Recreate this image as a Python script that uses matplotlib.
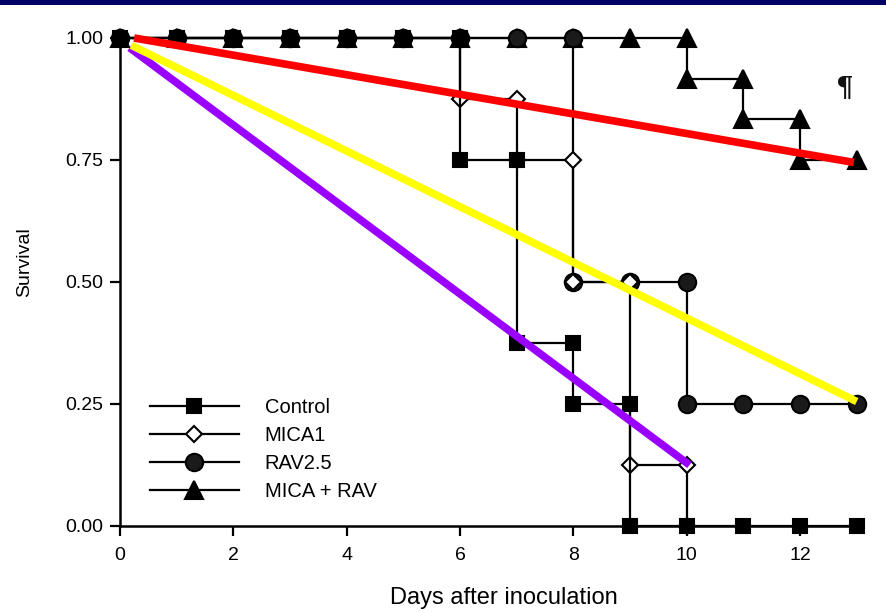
import matplotlib
matplotlib.use('Agg')
import matplotlib.pyplot as plt
from matplotlib.patches import Rectangle

plt.rcParams['font.family'] = ['Liberation Sans', 'DejaVu Sans']

# ---------------- data ----------------
days = list(range(14))
control  = [1, 1, 1, 1, 1, 1, 0.75, 0.375, 0.25, 0, 0, 0, 0, 0]
mica1    = [1, 1, 1, 1, 1, 1, 0.875, 0.75, 0.5, 0.125, 0]
rav25    = [1, 1, 1, 1, 1, 1, 1, 1, 0.5, 0.5, 0.25, 0.25, 0.25, 0.25]
mica_rav = [1, 1, 1, 1, 1, 1, 1, 1, 1, 1, 0.917, 0.833, 0.75, 0.75]
labels = ['Control', 'MICA1', 'RAV2.5', 'MICA + RAV']

# overlaid trend lines (start, end)
red_x, red_y = [0.25, 12.95], [1.0, 0.745]
yellow_x, yellow_y = [0.2, 13.0], [0.985, 0.255]
purple_x, purple_y = [0.17, 10.05], [0.98, 0.125]

xticks = [0, 2, 4, 6, 8, 10, 12]
yticks = [0.0, 0.25, 0.5, 0.75, 1.0]


def km_points(vals):
    xs, ys = [days[0]], [vals[0]]
    for d in range(1, len(vals)):
        if vals[d] != vals[d - 1]:
            xs.append(days[d]); ys.append(vals[d - 1])
        xs.append(days[d]); ys.append(vals[d])
    return xs, ys


W, H = 887, 613
fig = plt.figure(figsize=(W / 100, H / 100), dpi=100)
fig.patches.append(Rectangle((0, 1 - 5 / H), 1, 5 / H, transform=fig.transFigure,
                             facecolor='#000066', edgecolor='none', zorder=10))

left_px, right_px, top_px, bottom_px = 120, 856.7, 38, 526
ax = fig.add_axes([left_px / W, (H - bottom_px) / H,
                   (right_px - left_px) / W, (bottom_px - top_px) / H])

lw = 1.6
styles = {
    'MICA + RAV': dict(marker='^', ms=13.5, mfc='black', mec='black', z=2),
    'RAV2.5': dict(marker='o', ms=12.5, mfc='#1a1a1a', mec='black', z=3),
    'MICA1': dict(marker='D', ms=8.5, mfc='white', mec='black', z=4),
    'Control': dict(marker='s', ms=10.5, mfc='black', mec='black', z=5),
}
series = {'Control': control, 'MICA1': mica1, 'RAV2.5': rav25, 'MICA + RAV': mica_rav}
handles = {}
for name in ['MICA + RAV', 'RAV2.5', 'MICA1', 'Control']:
    st = styles[name]
    xs, ys = km_points(series[name])
    h, = ax.plot(xs, ys, color='black', lw=lw, marker=st['marker'], ms=st['ms'],
                 mfc=st['mfc'], mec=st['mec'], mew=1.5, zorder=st['z'], clip_on=False,
                 label=name)
    handles[name] = h

ax.plot(red_x, red_y, color='#ff0000', lw=5.5, solid_capstyle='butt', zorder=8, clip_on=False)
ax.plot(yellow_x, yellow_y, color='#ffff00', lw=5.5, solid_capstyle='butt', zorder=7, clip_on=False)
ax.plot(purple_x, purple_y, color='#9900ff', lw=5.5, solid_capstyle='butt', zorder=6, clip_on=False)

ax.text(12.8, 0.895, '\u00b6', fontsize=20, family=['DejaVu Serif'], fontweight='bold',
        ha='center', va='center', color='#111111')

ax.set_xlim(0, 13)
ax.set_ylim(0, 1)
ax.set_xticks(xticks)
ax.set_xticklabels([str(t) for t in xticks])
ax.set_yticks(yticks)
ax.set_yticklabels(['%.2f' % t for t in yticks])
for s in ['top', 'right']:
    ax.spines[s].set_visible(False)
for s in ['left', 'bottom']:
    ax.spines[s].set_linewidth(1.8)
ax.tick_params(direction='out', length=7, width=1.6, labelsize=14, colors='black')
ax.tick_params(axis='x', pad=8)
ax.tick_params(axis='y', pad=5)

ax.set_xlabel('Days after inoculation', fontsize=17)
ax.xaxis.set_label_coords((504 - left_px) / (right_px - left_px), -(598 - bottom_px) / (bottom_px - top_px))
ax.xaxis.label.set_va('center')
ax.set_ylabel('Survival', fontsize=14)
ax.yaxis.set_label_coords(-(left_px - 25) / (right_px - left_px), (bottom_px - 262) / (bottom_px - top_px))
ax.yaxis.label.set_va('center')

leg = ax.legend([handles[n] for n in labels], labels, loc='upper left',
                bbox_to_anchor=((150 - left_px) / (right_px - left_px), (bottom_px - 398) / (bottom_px - top_px)),
                frameon=False, fontsize=14.5, handlelength=4.4, handletextpad=1.3,
                labelspacing=0.45, borderpad=0, borderaxespad=0, numpoints=1)

fig.savefig('out.png', dpi=100)
